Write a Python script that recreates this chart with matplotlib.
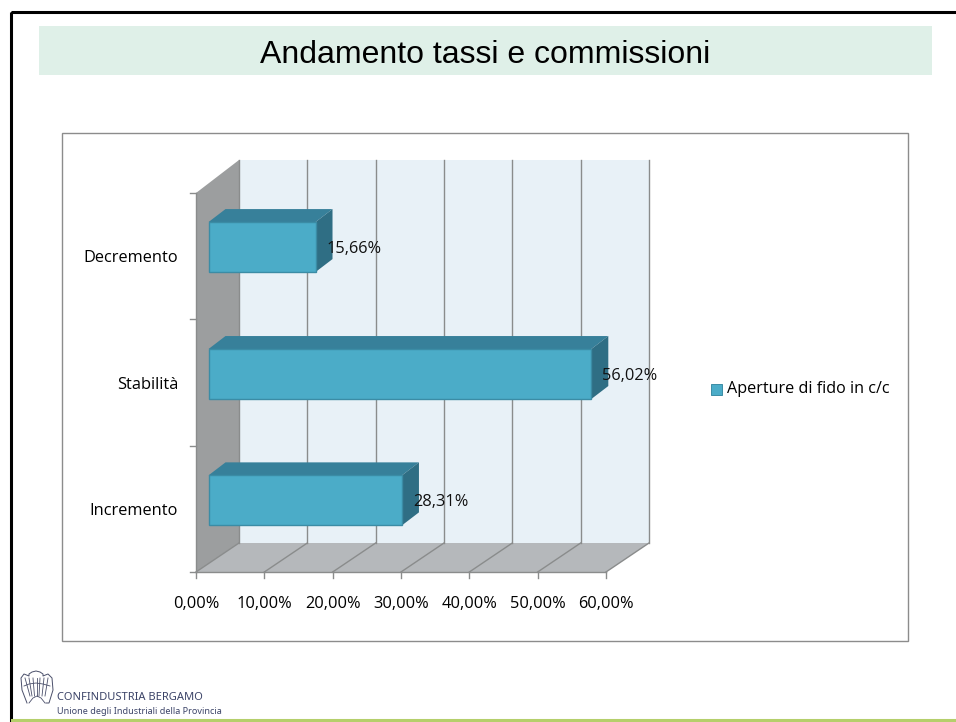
import matplotlib
matplotlib.use("Agg")
import matplotlib.pyplot as plt
from matplotlib.patches import Polygon, Rectangle

categories = ["Incremento", "Stabilità", "Decremento"]
values = [28.31, 56.02, 15.66]
value_labels = ["28,31%", "56,02%", "15,66%"]
x_ticks = [0, 10, 20, 30, 40, 50, 60]
x_tick_labels = ["0,00%", "10,00%", "20,00%", "30,00%", "40,00%", "50,00%", "60,00%"]
series_name = "Aperture di fido in c/c"
title = "Andamento tassi e commissioni"

W, H = 956, 722
fig = plt.figure(figsize=(W / 100, H / 100), dpi=100, facecolor="white")

# page layer, pixel coordinates
bg = fig.add_axes([0, 0, 1, 1])
bg.set_xlim(0, W); bg.set_ylim(H, 0); bg.axis("off")
bg.add_patch(Rectangle((11, 12), W, H, fill=False, ec="black", lw=2.2))
bg.add_patch(Rectangle((39, 26), 893, 49, fc="#DFF0E8", ec="none"))
bg.text(485.5, 55, title, ha="center", va="center", fontsize=23, family="Liberation Sans", color="black")
bg.add_patch(Rectangle((62.5, 132.5), 846, 508, fc="white", ec="#8C8C8C", lw=1))
bg.plot([12, W], [719.5, 719.5], color="#B5CF6B", lw=2.2)

# logo: scalloped shell outline with inner ribs
logo = "#4A4F6A"
bg.plot([27, 22, 21, 24, 29, 29, 32, 36, 40, 43, 43, 48, 52, 53, 49, 46],
        [703, 690, 678, 674, 676, 674, 672, 671, 672, 674, 676, 674, 678, 690, 703, 703],
        color=logo, lw=0.7)
for xt, xb in [(25, 30), (29, 32), (33, 34.5), (37, 37), (40, 39), (44, 42), (48, 45)]:
    bg.plot([xt, xb], [678, 696], color=logo, lw=0.6)
bg.plot([24, 29, 36, 43, 50], [686, 684, 683, 684, 686], color=logo, lw=0.6)
bg.plot([29, 33, 37, 41, 45], [703, 698, 696, 698, 703], color=logo, lw=0.6)
bg.text(57, 698, "CONFINDUSTRIA BERGAMO", fontsize=8, family="Noto Sans", color="#3C4468", va="center", ha="left")
bg.text(57, 711, "Unione degli Industriali della Provincia", fontsize=6.5, family="Noto Sans", color="#3C4468", va="center", ha="left")

# plot axes: x in %, y in category bands, placed on the front plane of the 3D box
L, R, T, B = 196, 606, 193, 572
ax = fig.add_axes([L / W, 1 - B / H, (R - L) / W, (B - T) / H])
ax.set_xlim(0, 60); ax.set_ylim(0, 3); ax.axis("off")
sx = (R - L) / 60
sy = (B - T) / 3
depth_x, depth_y = 43 / sx, 29 / sy            # box depth at the floor
top_y = 3 + 33 / sy                            # top edge of the back wall
bar_dx, bar_dy = 17 / sx, 13 / sy              # bar depth
bar_x0 = 12.5 / sx
bar_h = 50 / sy
bar_c = [0.567, 1.567, 2.572]
axis_col = "#8A8C8C"
label_size = 11.8

ax.add_patch(Polygon([(depth_x, depth_y), (60 + depth_x, depth_y), (60 + depth_x, top_y), (depth_x, top_y)],
                     fc="#E8F1F7", ec="none", clip_on=False, zorder=1))
ax.add_patch(Polygon([(0, 0), (depth_x, depth_y), (depth_x, top_y), (0, 3)],
                     fc="#9C9E9F", ec="none", clip_on=False, zorder=2))
ax.add_patch(Polygon([(0, 0), (60, 0), (60 + depth_x, depth_y), (depth_x, depth_y)],
                     fc="#B5B8BB", ec="none", clip_on=False, zorder=2))
for t, tl in zip(x_ticks, x_tick_labels):
    ax.plot([t + depth_x, t + depth_x], [depth_y, top_y], color=axis_col, lw=1, clip_on=False, zorder=3)
    ax.plot([t, t + depth_x], [0, depth_y], color=axis_col, lw=1, clip_on=False, zorder=3)
    ax.plot([t, t], [0, -6 / sy], color=axis_col, lw=1, clip_on=False, zorder=3)
    ax.text(t, -32 / sy, tl, ha="center", va="center", fontsize=label_size, family="Open Sans",
            color="black", clip_on=False)
ax.plot([0, 60], [0, 0], color=axis_col, lw=1, clip_on=False, zorder=3)
for k in range(4):
    ax.plot([-6 / sx, 0], [k, k], color=axis_col, lw=1, clip_on=False, zorder=3)
ax.plot([0, 0], [0, 3], color=axis_col, lw=1, clip_on=False, zorder=3)

for c, v, lab, cat in zip(bar_c, values, value_labels, categories):
    x1 = bar_x0 + v
    y0, y1 = c - bar_h / 2, c + bar_h / 2
    ax.add_patch(Polygon([(bar_x0, y1), (x1, y1), (x1 + bar_dx, y1 + bar_dy), (bar_x0 + bar_dx, y1 + bar_dy)],
                         fc="#37809A", ec="none", clip_on=False, zorder=4))
    ax.add_patch(Polygon([(x1, y0), (x1 + bar_dx, y0 + bar_dy), (x1 + bar_dx, y1 + bar_dy), (x1, y1)],
                         fc="#2F6E84", ec="none", clip_on=False, zorder=4))
    ax.barh(c, v, height=bar_h, left=bar_x0, color="#4BACC8", edgecolor="#3B8CA5", lw=1, zorder=5, clip_on=False)
    ax.text(x1 + 11 / sx, c - 2 / sy, lab, ha="left", va="center", fontsize=label_size, family="Open Sans",
            color="#111111", zorder=6, clip_on=False)
    ax.text(-18 / sx, c - 11 / sy, cat, ha="right", va="center", fontsize=label_size, family="Open Sans",
            color="black", clip_on=False)

# legend
bg.add_patch(Rectangle((711.5, 384), 10.5, 10.5, fc="#4BACC8", ec="#3B8CA5", lw=0.7))
bg.text(727, 389, series_name, ha="left", va="center", fontsize=11.6, family="Open Sans", color="black")

fig.savefig("out.png", dpi=100)
